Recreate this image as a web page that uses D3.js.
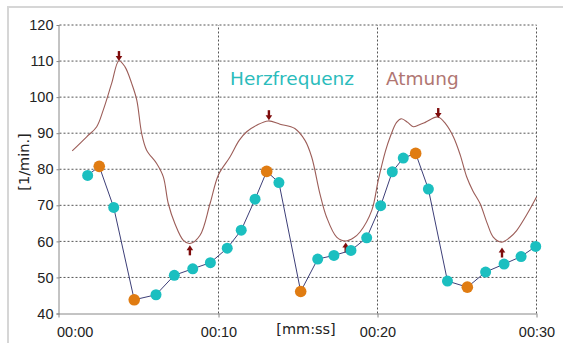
<!DOCTYPE html>
<html>
<head>
<meta charset="utf-8">
<script src="https://cdn.jsdelivr.net/npm/d3@7"></script>
<style>
  body { margin: 0; background: #fff; }
  svg { display: block; font-family: "DejaVu Sans", Verdana, sans-serif; }
</style>
</head>
<body>
<div id="chart"></div>
<script>
// heart rate beats: time [s] and rate [1/min]
const hrTime = [1.77, 2.5, 3.41, 4.7, 6.07, 7.22, 8.38, 9.49, 10.55, 11.43, 12.3, 13.03, 13.8, 15.17,
  16.24, 17.26, 18.33, 19.32, 20.2, 20.93, 21.62, 22.4, 23.2, 24.4, 25.65, 26.8, 27.96, 29.03, 29.95];
const hrValue = [78.3, 80.8, 69.4, 43.8, 45.2, 50.6, 52.4, 54.1, 58.1, 63.1, 71.7, 79.4, 76.3, 46.1,
  55.1, 56.1, 57.5, 61, 69.9, 79.3, 83.1, 84.4, 74.5, 49, 47.3, 51.5, 53.7, 55.8, 58.6];
// beats marked as extremes (orange)
const hrExtreme = [1, 3, 11, 13, 21, 24];

// breathing curve
const brTime = [0.8, 1.71, 2.34, 2.75, 3.28, 3.74, 4.12, 4.54, 4.86, 5.17, 5.48, 6.11, 6.53, 6.84, 7.26, 7.79, 8.2,
  8.84, 9.47, 10.0, 10.72, 11.3, 11.77, 12.4, 13.13, 13.87, 14.8, 15.44, 15.86, 16.38, 16.8, 17.43, 18.0,
  18.5, 18.9, 19.64, 20.05, 20.5, 20.8, 21.2, 21.5, 21.9, 22.25, 22.6, 23.0, 23.8, 24.3, 24.77, 25.2, 25.6,
  26.0, 26.45, 26.9, 27.28, 27.8, 28.3, 28.75, 29.4, 30.0];
const brValue = [85.1, 89, 91.8, 96.4, 103.8, 110.1, 108.4, 103.8, 99.2, 89.9, 85.3, 81.6, 77.9, 70.5, 64.9, 60.3, 59.4,
  61.7, 70.5, 78.5, 83.4, 88, 90.4, 92.2, 93.4, 92.5, 91.3, 88, 83.4, 73.2, 66.7, 61.2, 60.1,
  61, 62.6, 68.6, 77, 85, 89, 93, 94, 93, 91.8, 92.3, 93, 94.5, 92.5, 89, 84, 78,
  74, 70.5, 65, 61.2, 59.8, 61, 63, 67.5, 72.3];

// breathing extremes: arrows (down over peaks, up under troughs)
const arrowTime = [3.74, 8.2, 13.17, 18.0, 23.82, 27.83];
const arrowValue = [110, 58.9, 93.6, 59.7, 94.2, 58.3];
const arrowDir = ['down', 'up', 'down', 'up', 'down', 'up'];

const xTicks = [0, 10, 20, 30];
const yTicks = [40, 50, 60, 70, 80, 90, 100, 110, 120];

const width = 563, height = 343;
const margin = { top: 25, right: 26.5, bottom: 29.5, left: 59.5 };

const svg = d3.select('#chart').append('svg')
  .attr('width', width)
  .attr('height', height);

// outer frame
svg.append('rect')
  .attr('x', 8).attr('y', 7)
  .attr('width', 600).attr('height', 400)
  .attr('fill', 'none')
  .attr('stroke', '#d6d6d6')
  .attr('stroke-width', 2);

const x = d3.scaleLinear().domain([0, 30]).range([margin.left, width - margin.right]);
const y = d3.scaleLinear().domain([40, 120]).range([height - margin.bottom, margin.top]);

const fmt = s => '00:' + String(s).padStart(2, '0');

// grid
svg.append('g').selectAll('line')
  .data(yTicks.filter(d => d > 40))
  .join('line')
  .attr('x1', x(0)).attr('x2', x(30))
  .attr('y1', d => y(d)).attr('y2', d => y(d))
  .attr('stroke', '#555').attr('stroke-dasharray', '2,2');
svg.append('g').selectAll('line')
  .data(xTicks.filter(d => d > 0))
  .join('line')
  .attr('x1', d => x(d)).attr('x2', d => x(d))
  .attr('y1', y(40)).attr('y2', y(120))
  .attr('stroke', '#555').attr('stroke-dasharray', '2,2');

// axes
const xAxis = svg.append('g')
  .attr('transform', `translate(0, ${y(40)})`)
  .call(d3.axisBottom(x).tickValues(xTicks).tickFormat(fmt).tickSizeInner(4).tickSizeOuter(0).tickPadding(6));
xAxis.select('.domain').attr('stroke', '#888').attr('d', `M${x(0) - 3},0.5H${x(30)}`);
xAxis.selectAll('.tick line').attr('stroke', '#888');
xAxis.selectAll('text').attr('fill', '#222').style('font-size', '14.5px').attr('dy', '0.95em');
// first label sits to the right of its tick
xAxis.selectAll('.tick').filter(d => d === 0).select('text')
  .attr('text-anchor', 'start').attr('x', -3);
xAxis.selectAll('.tick').filter(d => d === 0).select('line').remove();

const yAxis = svg.append('g')
  .attr('transform', `translate(${x(0)}, 0)`)
  .call(d3.axisLeft(y).tickValues(yTicks).tickSizeInner(3).tickSizeOuter(0).tickPadding(3));
yAxis.select('.domain').attr('stroke', '#888').attr('d', `M-0.5,${y(120)}V${y(40) + 4}`);
yAxis.selectAll('.tick line').attr('stroke', '#888');
yAxis.selectAll('text').attr('fill', '#222').style('font-size', '14.5px');

// axis titles
svg.append('text')
  .attr('x', 306).attr('y', 334)
  .attr('text-anchor', 'middle')
  .style('font-size', '14.5px').attr('fill', '#222')
  .text('[mm:ss]');
svg.append('text')
  .attr('transform', 'translate(29, 162) rotate(-90)')
  .attr('text-anchor', 'middle')
  .style('font-size', '14.5px').attr('fill', '#222')
  .text('[1/min.]');

// breathing curve
const brData = brTime.map((t, i) => [t, brValue[i]]);
svg.append('path')
  .datum(brData)
  .attr('fill', 'none')
  .attr('stroke', '#9c5d58')
  .attr('stroke-width', 1.1)
  .attr('d', d3.line().x(d => x(d[0])).y(d => y(d[1])).curve(d3.curveCatmullRom));

// arrows
const arrows = svg.append('g').attr('fill', '#7e0c0c').attr('stroke', '#7e0c0c');
arrowTime.forEach((t, i) => {
  const ax = x(t), ay = y(arrowValue[i]);
  const s = arrowDir[i] === 'down' ? -1 : 1;
  arrows.append('line')
    .attr('x1', ax).attr('x2', ax)
    .attr('y1', ay + s * 4).attr('y2', ay + s * 10)
    .attr('stroke-width', 2.4);
  arrows.append('path')
    .attr('stroke', 'none')
    .attr('d', `M${ax - 3.3},${ay + s * 5}L${ax + 3.3},${ay + s * 5}L${ax},${ay}Z`);
});

// heart rate
const hrData = hrTime.map((t, i) => [t, hrValue[i], hrExtreme.includes(i)]);
svg.append('path')
  .datum(hrData)
  .attr('fill', 'none')
  .attr('stroke', '#3d3f78')
  .attr('stroke-width', 1)
  .attr('d', d3.line().x(d => x(d[0])).y(d => y(d[1])));
svg.append('g').selectAll('circle')
  .data(hrData)
  .join('circle')
  .attr('cx', d => x(d[0]))
  .attr('cy', d => y(d[1]))
  .attr('r', d => d[2] ? 5.8 : 5.5)
  .attr('fill', d => d[2] ? '#e07c12' : '#1bbfc0');

// legend
svg.append('text')
  .attr('x', 230).attr('y', 85)
  .style('font-size', '18.5px').attr('fill', '#2bbcbc')
  .text('Herzfrequenz');
svg.append('text')
  .attr('x', 386).attr('y', 85)
  .style('font-size', '18.5px').attr('fill', '#b07672')
  .text('Atmung');
</script>
</body>
</html>
